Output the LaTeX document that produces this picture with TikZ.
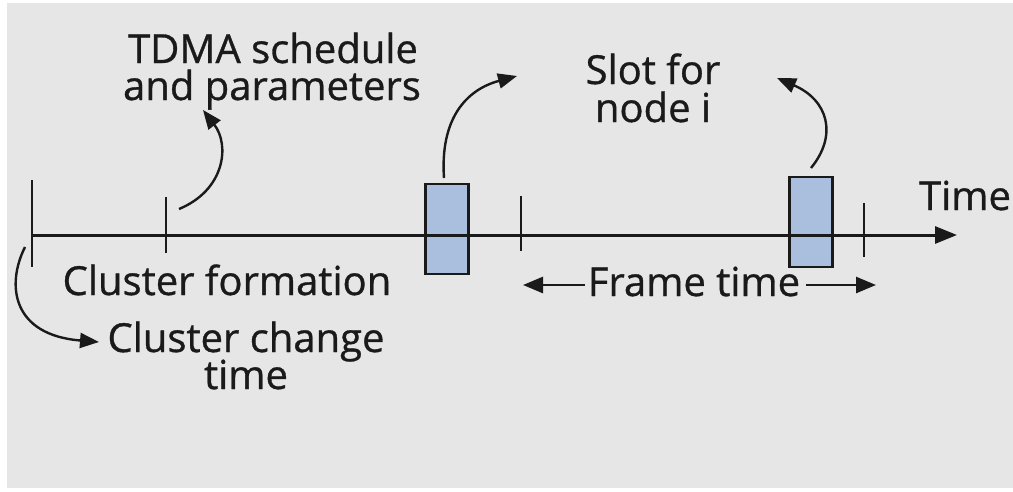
\documentclass[tikz,border=0pt]{standalone}
\usepackage{fontspec}
\setmainfont{Open Sans}[FakeBold=0.8]
\usetikzlibrary{arrows.meta}
\definecolor{bg}{HTML}{E6E6E6}
\definecolor{slotfill}{HTML}{AABFDD}
\definecolor{ink}{HTML}{1A1A1A}
\tikzset{
  lbl/.style={font=\fontsize{40}{37}\selectfont, text=ink, inner sep=0pt, anchor=base},
  tick/.style={draw=ink, line width=2.8pt},
  slotbox/.style={draw=ink, line width=2.6pt, fill=slotfill, minimum width=43pt, inner sep=0pt},
  curv/.style={draw=ink, line width=2.4pt, -{Triangle[length=19pt,width=15pt]}},
  axisline/.style={draw=ink, line width=3pt, -{Triangle[length=22pt,width=17pt]}},
  framearr/.style={draw=ink, line width=2.7pt, -{Triangle[length=20pt,width=16pt]}}
}
\begin{document}
\begin{tikzpicture}[x=1pt,y=-1pt]
  % canvas
  \fill[white] (0,0) rectangle (1013,491);
  \fill[bg] (7,3) rectangle (1013,488);
  \useasboundingbox (0,0) rectangle (1013,491);

  % time axis
  \coordinate (a0) at (32,235);
  \coordinate (a1) at (957,235);
  \draw[axisline] (a0) -- (a1);

  % ticks
  \coordinate (t0a) at (32,180);  \coordinate (t0b) at (32,267);
  \coordinate (t1a) at (166,197); \coordinate (t1b) at (166,253);
  \coordinate (t2a) at (521,196); \coordinate (t2b) at (521,251);
  \coordinate (t3a) at (864,203); \coordinate (t3b) at (864,257);
  \draw[tick] (t0a) -- (t0b);
  \draw[tick] (t1a) -- (t1b);
  \draw[tick] (t2a) -- (t2b);
  \draw[tick] (t3a) -- (t3b);

  % slots
  \node[slotbox, minimum height=90pt] (s1) at (447,229) {};
  \node[slotbox, minimum height=90pt] (s2) at (811,222) {};
  \draw[ink, line width=3pt] (s1.west |- a0) -- (s1.east |- a0);
  \draw[ink, line width=3pt] (s2.west |- a0) -- (s2.east |- a0);

  % labels
  \node[lbl] (time) at (965,210) {Time};
  \node[lbl] (tdma1) at (273,63) {TDMA schedule};
  \node[lbl] (tdma2) at (272,100) {and parameters};
  \node[lbl] (slot1) at (653,84) {Slot for};
  \node[lbl] (slot2) at (653,122) {node i};
  \node[lbl] (cf) at (227,295) {Cluster formation};
  \node[lbl] (cct1) at (246,352) {Cluster change};
  \node[lbl] (cct2) at (246,389) {time};
  \node[lbl] (ft) at (694,296) {Frame time};

  % frame time arrows
  \coordinate (ftl) at (523,285);
  \coordinate (ftr) at (876,285);
  \draw[framearr] ([xshift=-3pt]ft.west |- ftl) -- (ftl);
  \draw[framearr] ([xshift=6pt]ft.east |- ftr) -- (ftr);

  % curved pointers
  \coordinate (c0s) at (25,247);
  \coordinate (c0e) at (99,342);
  \draw[curv] (c0s) .. controls (6,285) and (12,335) .. (c0e);

  \coordinate (c1s) at (179,209);
  \coordinate (c1e) at (203,110);
  \draw[curv] (c1s) .. controls (225,190) and (230,145) .. (c1e);

  \coordinate (c2s) at (444,178);
  \coordinate (c2e) at (517,76);
  \draw[curv] (c2s) .. controls (440,120) and (465,90) .. (c2e);

  \coordinate (c3s) at (811,168);
  \coordinate (c3e) at (777,78);
  \draw[curv] (c3s) .. controls (838,135) and (828,100) .. (c3e);
\end{tikzpicture}
\end{document}
